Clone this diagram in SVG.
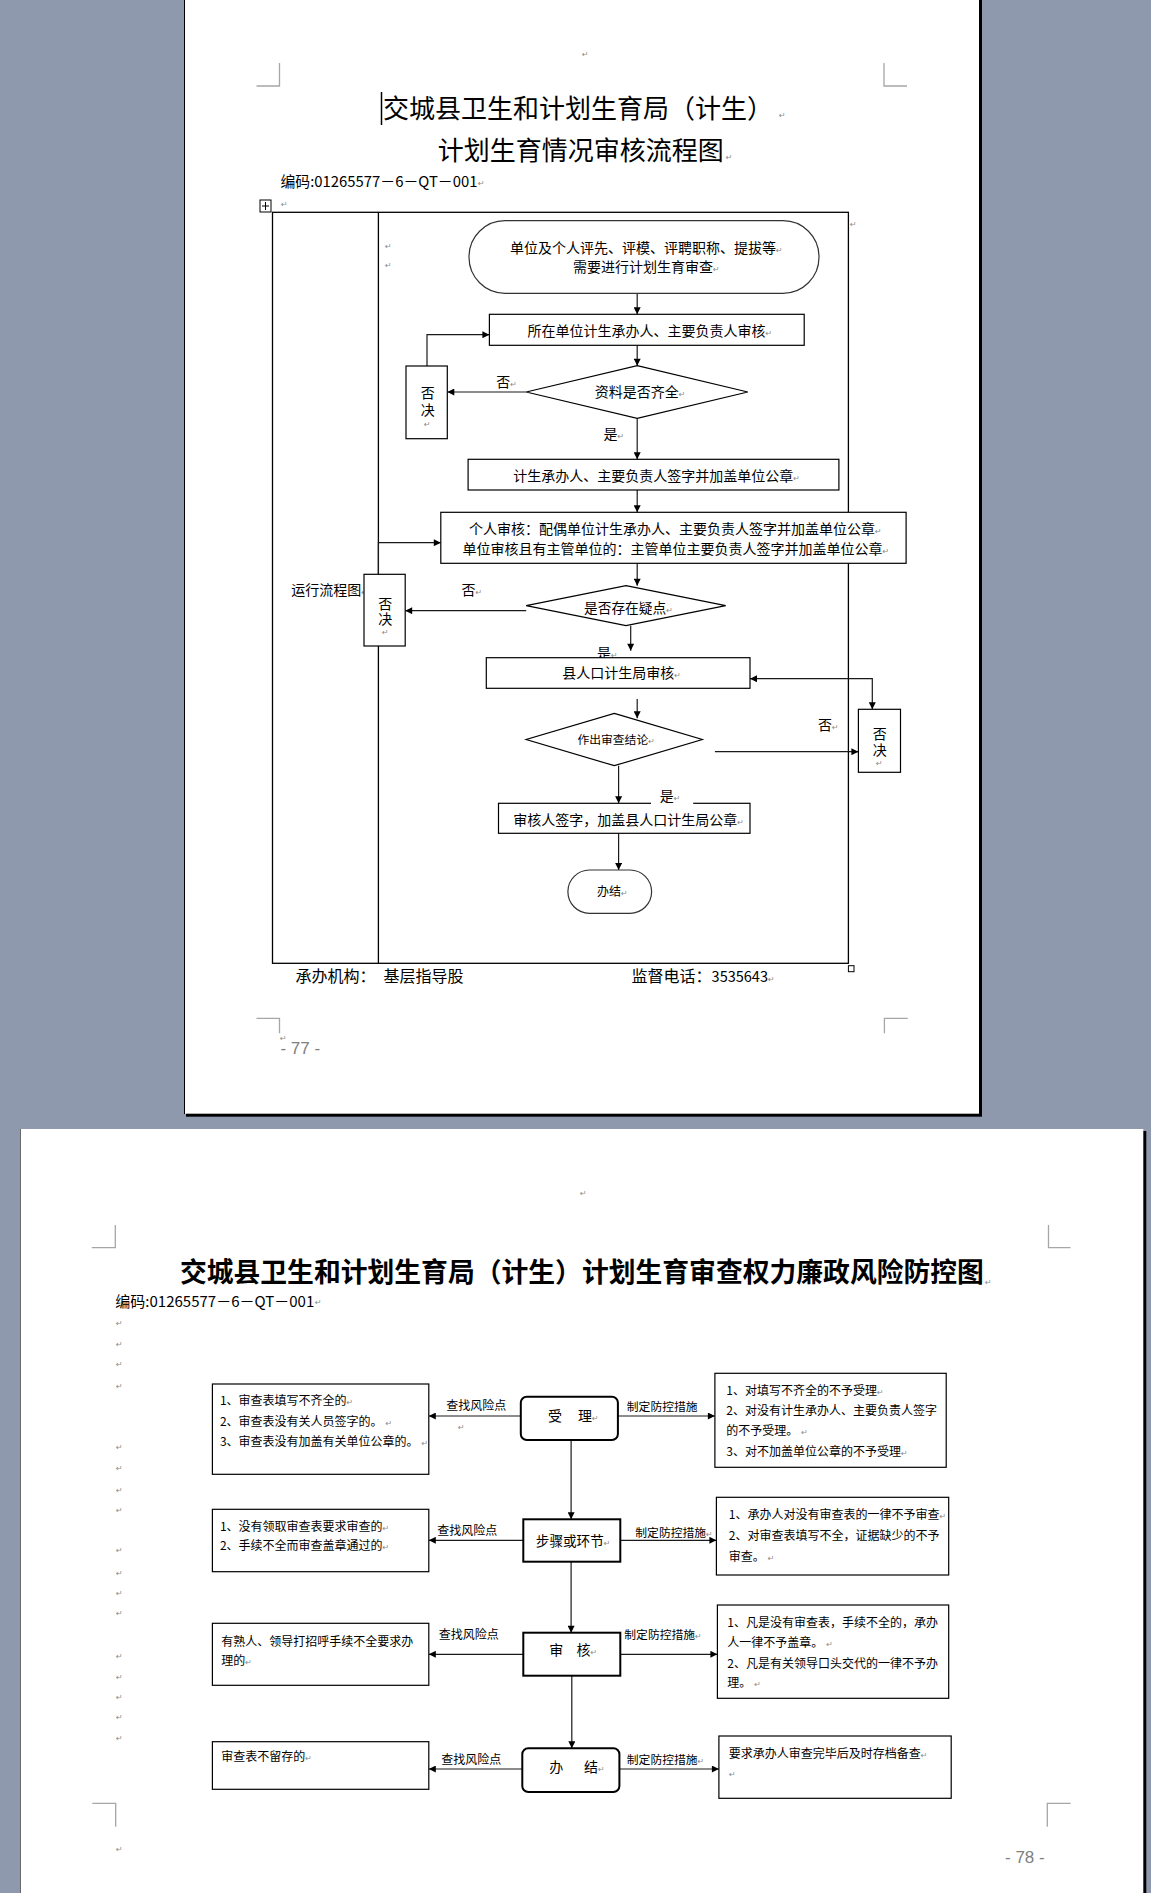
<svg xmlns="http://www.w3.org/2000/svg" width="1151" height="1893" viewBox="0 0 1151 1893">
<style>
.t{font-family:"Noto Sans CJK SC","Noto Sans",sans-serif;fill:#000}
.f12{font-size:12px}.f14{font-size:14px}.f15{font-size:15px}.f16{font-size:16px}.f26{font-size:26px}
.b{font-weight:bold}
.v{writing-mode:vertical-rl}
.rm{font-family:"DejaVu Sans",sans-serif;font-size:8px;fill:#8a8a8a;font-weight:normal}
.box{fill:#fff;stroke:#000;stroke-width:1.2}
.nb{fill:#fff;stroke:#000;stroke-width:2}
.cn{fill:none;stroke:#1a1a1a;stroke-width:1.2}
.cm{fill:none;stroke:#a6a6a6;stroke-width:1.3}
.pg{font-family:"Liberation Sans",sans-serif;font-size:17px;fill:#808080}
</style>
<defs>
<marker id="ah" viewBox="0 0 10 10" refX="10" refY="5" markerWidth="8" markerHeight="7" markerUnits="userSpaceOnUse" orient="auto-start-reverse">
<path d="M0,0 L10,5 L0,10 z" fill="#000"/>
</marker>
</defs>

<!-- background and pages -->
<rect x="0" y="0" width="1151" height="1893" fill="#8f99ae"/>
<rect x="186" y="-5" width="796" height="1121.7" fill="#000"/>
<rect x="184" y="-5" width="795" height="1118.7" fill="#fff"/>
<line x1="184.5" y1="0" x2="184.5" y2="1114" stroke="#000" stroke-width="1"/>
<rect x="22" y="1131" width="1124.3" height="770" fill="#000"/>
<rect x="20" y="1129" width="1123.3" height="770" fill="#fff"/>
<line x1="20.5" y1="1129" x2="20.5" y2="1893" stroke="#6a6a6a" stroke-width="1"/>

<!-- corner marks -->
<path class="cm" d="M256.5,86 H279.5 V63 M884,63 V86 H907 M256.5,1018.3 H279.5 V1033.3 M884.4,1033.3 V1018.3 H907.8"/>
<path class="cm" d="M91.8,1247.7 H115.3 V1225 M1048.5,1225 V1247.7 H1070.5 M92.3,1803.3 H115.7 V1826.7 M1047.3,1826.7 V1803.3 H1070.7"/>

<!-- page 1 header -->
<text class="rm" x="582" y="57">↵</text>
<line x1="381.5" y1="92" x2="381.5" y2="125" stroke="#000" stroke-width="1.5"/>
<text class="t f26" x="383" y="118.4">交城县卫生和计划生育局（计生）<tspan class="rm" dx="6">↵</tspan></text>
<text class="t f26" x="437.7" y="159.9">计划生育情况审核流程图<tspan class="rm" dx="2">↵</tspan></text>
<text class="t f15" x="280.5" y="187.4" textLength="197" lengthAdjust="spacingAndGlyphs">编码:01265577－6－QT－001</text>
<text class="rm" x="478" y="186">↵</text>

<!-- page 1 table -->
<g id="table1">
<rect x="260" y="200" width="11" height="12" fill="#fff" stroke="#000" stroke-width="1"/>
<path d="M265.5,202 V210 M262,206 H269" stroke="#000" stroke-width="1"/>
<text class="rm" x="281" y="207">↵</text>
<rect x="272.5" y="212.3" width="575.9" height="751" fill="none" stroke="#000" stroke-width="1.3"/>
<line x1="378.4" y1="212.3" x2="378.4" y2="963.3" stroke="#000" stroke-width="1.3"/>
<rect x="848.4" y="965.7" width="5.6" height="6" fill="#fff" stroke="#000" stroke-width="1"/>
<text class="rm" x="850" y="227">↵</text>
<text class="rm" x="385" y="249">↵</text>
<text class="rm" x="385" y="268">↵</text>
</g>

<!-- page 1 connectors -->
<g id="connectors1">
<path class="cn" d="M637.2,293.3 V314.3" marker-end="url(#ah)"/>
<path class="cn" d="M637.2,345.3 V365.7" marker-end="url(#ah)"/>
<path class="cn" d="M526.2,392 H447.3" marker-end="url(#ah)"/>
<path class="cn" d="M427,366 V334.7 H489.4" marker-end="url(#ah)"/>
<path class="cn" d="M637.2,418.3 V459.3" marker-end="url(#ah)"/>
<path class="cn" d="M637.2,490 V512.3" marker-end="url(#ah)"/>
<path class="cn" d="M378.4,574.3 V542.7 H440.8" marker-end="url(#ah)"/>
<path class="cn" d="M637.2,563.3 V585.7" marker-end="url(#ah)"/>
<path class="cn" d="M526.2,610.7 H405.2" marker-end="url(#ah)"/>
<path class="cn" d="M630.7,625.7 V650.7" marker-end="url(#ah)"/>
<path class="cn" d="M750,678.7 H872.3 V709.3" marker-start="url(#ah)" marker-end="url(#ah)"/>
<path class="cn" d="M637.2,699 V718.3" marker-end="url(#ah)"/>
<path class="cn" d="M714.9,751.7 H858.4" marker-end="url(#ah)"/>
<path class="cn" d="M618.6,765.7 V803.3" marker-end="url(#ah)"/>
<path class="cn" d="M618.6,833.3 V870" marker-end="url(#ah)"/>
</g>

<!-- page 1 nodes -->
<g id="start1">
<rect x="469" y="220.7" width="350" height="72.6" rx="36" ry="36" fill="#fff" stroke="#333" stroke-width="1.2"/>
<text class="t f14" x="510" y="252.6">单位及个人评先、评模、评聘职称、提拔等<tspan class="rm">↵</tspan></text>
<text class="t f14" x="573" y="272">需要进行计划生育审查<tspan class="rm">↵</tspan></text>
</g>
<g id="unitReview">
<rect class="box" x="489.4" y="314.3" width="314.8" height="31"/>
<text class="t f14" x="527.5" y="336">所在单位计生承办人、主要负责人审核<tspan class="rm">↵</tspan></text>
</g>
<g id="dataComplete">
<polygon points="637.2,365.7 747.8,392 637.2,418.3 526.2,392" fill="#fff" stroke="#000" stroke-width="1.2"/>
<text class="t f14" x="594.8" y="397.3">资料是否齐全<tspan class="rm">↵</tspan></text>
</g>
<text class="t f14" x="496.3" y="387">否<tspan class="rm">↵</tspan></text>
<g id="reject1">
<rect class="box" x="406" y="366" width="41.3" height="72.7"/>
<text class="t f14 v" x="427.8" y="385.7" style="letter-spacing:3px">否决</text>
<text class="rm" x="424" y="427">↵</text>
</g>
<text class="t f14" x="603.4" y="438.6">是<tspan class="rm">↵</tspan></text>
<g id="signSeal">
<rect class="box" x="468.1" y="459.3" width="370.8" height="30.7"/>
<text class="t f14" x="513.2" y="480.6">计生承办人、主要负责人签字并加盖单位公章<tspan class="rm">↵</tspan></text>
</g>
<g id="personalReview">
<rect class="box" x="440.8" y="512.3" width="465.3" height="51"/>
<text class="t f14" x="469" y="534.3">个人审核：配偶单位计生承办人、主要负责人签字并加盖单位公章<tspan class="rm">↵</tspan></text>
<text class="t f14" x="462.5" y="553.6">单位审核且有主管单位的：主管单位主要负责人签字并加盖单位公章<tspan class="rm">↵</tspan></text>
</g>
<text class="t f14" x="291.2" y="594.6">运行流程图<tspan class="rm">↵</tspan></text>
<text class="t f14" x="461.6" y="594.6">否<tspan class="rm">↵</tspan></text>
<g id="reject2">
<rect class="box" x="364" y="574.3" width="41.2" height="71.7"/>
<text class="t f14 v" x="385.3" y="596.3" style="letter-spacing:1px">否决</text>
<text class="rm" x="382" y="635">↵</text>
</g>
<g id="doubtCheck">
<polygon points="626,585.7 725.7,605.7 626,625.7 526.2,605.7" fill="#fff" stroke="#000" stroke-width="1.2"/>
<text class="t" style="font-size:13.7px" x="584" y="612.5">是否存在疑点<tspan class="rm">↵</tspan></text>
</g>
<text class="t f14" x="597" y="657.6">是<tspan class="rm">↵</tspan></text>
<g id="countyReview">
<rect class="box" x="486.3" y="657.7" width="263.7" height="30.6"/>
<text class="t f14" x="562.2" y="678">县人口计生局审核<tspan class="rm">↵</tspan></text>
</g>
<text class="t f14" x="818" y="730.3">否<tspan class="rm">↵</tspan></text>
<g id="reject3">
<rect class="box" x="858.4" y="709.3" width="42.1" height="63"/>
<text class="t f14 v" x="879.7" y="726.3" style="letter-spacing:2px">否决</text>
<text class="rm" x="876" y="766">↵</text>
</g>
<g id="conclusion">
<polygon points="614.3,713.3 702.3,739.5 614.3,765.7 526.2,739.5" fill="#fff" stroke="#000" stroke-width="1.2"/>
<text class="t" style="font-size:11.8px" x="577.4" y="743.8">作出审查结论<tspan class="rm">↵</tspan></text>
</g>
<g id="countySeal">
<rect class="box" x="498.5" y="803.3" width="251.5" height="30"/>
<rect x="651" y="788" width="42.2" height="16" fill="#fff"/>
<text class="t f14" x="659.8" y="801">是<tspan class="rm">↵</tspan></text>
<text class="t f14" x="513.2" y="825.3">审核人签字，加盖县人口计生局公章<tspan class="rm">↵</tspan></text>
</g>
<g id="end1">
<rect x="567.9" y="870" width="83.7" height="43.3" rx="21.6" ry="21.6" fill="#fff" stroke="#333" stroke-width="1.2"/>
<text class="t f12" x="597" y="896.3">办结<tspan class="rm">↵</tspan></text>
</g>

<!-- page 1 footer -->
<text class="t f16" x="295.5" y="982.1">承办机构：</text>
<text class="t f16" x="383.6" y="982.1">基层指导股</text>
<text class="t f16" x="631.6" y="982.1">监督电话：<tspan style="font-size:14.5px">3535643</tspan><tspan class="rm">↵</tspan></text>
<text class="rm" x="280" y="1041">↵</text>
<text class="pg" x="280.4" y="1054.4">- 77 -</text>

<!-- page 2 header -->
<text class="rm" x="580" y="1196">↵</text>
<text class="t b" style="font-size:26.8px" x="179.9" y="1281.9" textLength="804" lengthAdjust="spacingAndGlyphs">交城县卫生和计划生育局（计生）计划生育审查权力廉政风险防控图</text>
<text class="rm" x="985" y="1285">↵</text>
<text class="t f15" x="115.3" y="1306.7" textLength="199" lengthAdjust="spacingAndGlyphs">编码:01265577－6－QT－001</text>
<text class="rm" x="315" y="1305">↵</text>
<g id="marginMarks">
<text class="rm" x="116" y="1326">↵</text>
<text class="rm" x="116" y="1347">↵</text>
<text class="rm" x="116" y="1367">↵</text>
<text class="rm" x="116" y="1389">↵</text>
<text class="rm" x="116" y="1450">↵</text>
<text class="rm" x="116" y="1471">↵</text>
<text class="rm" x="116" y="1493">↵</text>
<text class="rm" x="116" y="1513">↵</text>
<text class="rm" x="116" y="1553">↵</text>
<text class="rm" x="116" y="1576">↵</text>
<text class="rm" x="116" y="1596">↵</text>
<text class="rm" x="116" y="1616">↵</text>
<text class="rm" x="116" y="1659">↵</text>
<text class="rm" x="116" y="1680">↵</text>
<text class="rm" x="116" y="1700">↵</text>
<text class="rm" x="116" y="1720">↵</text>
<text class="rm" x="116" y="1741">↵</text>
<text class="rm" x="116" y="1852">↵</text>
</g>

<!-- page 2 connectors -->
<g id="connectors2">
<path class="cn" d="M571.1,1440 V1519.3" marker-end="url(#ah)"/>
<path class="cn" d="M571.1,1561.7 V1632.7" marker-end="url(#ah)"/>
<path class="cn" d="M571.8,1675.7 V1748.3" marker-end="url(#ah)"/>
<path class="cn" d="M520.8,1416 H428.8" marker-end="url(#ah)"/>
<path class="cn" d="M617.9,1416 H714.9" marker-end="url(#ah)"/>
<path class="cn" d="M523.3,1540.3 H428.8" marker-end="url(#ah)"/>
<path class="cn" d="M620.3,1540.3 H716.4" marker-end="url(#ah)"/>
<path class="cn" d="M523.3,1654.3 H428.8" marker-end="url(#ah)"/>
<path class="cn" d="M620.3,1654.3 H717.4" marker-end="url(#ah)"/>
<path class="cn" d="M522.3,1769 H428.8" marker-end="url(#ah)"/>
<path class="cn" d="M619.4,1769 H718.9" marker-end="url(#ah)"/>
<text class="t f12" x="446.2" y="1409.6">查找风险点</text>
<text class="rm" x="458" y="1430">↵</text>
<text class="t f12" x="437.3" y="1535.3">查找风险点</text>
<text class="t f12" x="438.8" y="1638.6">查找风险点</text>
<text class="t f12" x="441.2" y="1763.9">查找风险点</text>
<text class="t" style="font-size:11.8px" x="626.8" y="1411.2">制定防控措施</text>
<text class="t" style="font-size:11.8px" x="635.3" y="1536.8">制定防控措施<tspan class="rm">↵</tspan></text>
<text class="t" style="font-size:11.8px" x="624.3" y="1638.8">制定防控措施<tspan class="rm">↵</tspan></text>
<text class="t" style="font-size:11.8px" x="626.8" y="1763.8">制定防控措施<tspan class="rm">↵</tspan></text>
</g>

<!-- page 2 nodes -->
<g id="accept">
<rect class="nb" x="520.8" y="1396.7" width="97.1" height="43.3" rx="6" ry="6"/>
<text class="t f14" x="548" y="1421.3">受</text>
<text class="t f14" x="578" y="1421.3">理<tspan class="rm">↵</tspan></text>
</g>
<g id="steps">
<rect class="nb" x="523.3" y="1519.3" width="97" height="42.4"/>
<text class="t" style="font-size:13.6px" x="535.8" y="1546.2">步骤或环节<tspan class="rm">↵</tspan></text>
</g>
<g id="audit">
<rect class="nb" x="523.3" y="1632.7" width="97" height="43"/>
<text class="t f14" x="549.2" y="1655.3">审</text>
<text class="t f14" x="576.5" y="1655.3">核<tspan class="rm">↵</tspan></text>
</g>
<g id="finish">
<rect class="nb" x="522.3" y="1748.3" width="97.1" height="43.7" rx="6" ry="6"/>
<text class="t f14" x="549.2" y="1772">办</text>
<text class="t f14" x="584" y="1772">结<tspan class="rm">↵</tspan></text>
</g>

<g id="risk1">
<rect class="box" x="212.4" y="1384" width="216.4" height="90.3"/>
<text class="t f12" x="219.9" y="1405.3">1、审查表填写不齐全的<tspan class="rm">↵</tspan></text>
<text class="t f12" x="219.9" y="1425.6">2、审查表没有关人员签字的。<tspan class="rm" dx="3">↵</tspan></text>
<text class="t f12" x="219.9" y="1446.3">3、审查表没有加盖有关单位公章的。<tspan class="rm" dx="3">↵</tspan></text>
</g>
<g id="risk2">
<rect class="box" x="212.4" y="1509.3" width="216.4" height="62.4"/>
<text class="t f12" x="219.9" y="1530.6">1、没有领取审查表要求审查的<tspan class="rm">↵</tspan></text>
<text class="t f12" x="219.9" y="1549.6">2、手续不全而审查盖章通过的<tspan class="rm">↵</tspan></text>
</g>
<g id="risk3">
<rect class="box" x="212.4" y="1623.3" width="216.4" height="62"/>
<text class="t f12" x="221.3" y="1645.6">有熟人、领导打招呼手续不全要求办</text>
<text class="t f12" x="221.3" y="1665.3">理的<tspan class="rm">↵</tspan></text>
</g>
<g id="risk4">
<rect class="box" x="212.4" y="1741.7" width="216.4" height="47.6"/>
<text class="t f12" x="221.3" y="1761.3">审查表不留存的<tspan class="rm">↵</tspan></text>
</g>

<g id="measure1">
<rect class="box" x="714.9" y="1373.3" width="231.3" height="94"/>
<text class="t f12" x="726.3" y="1395.3">1、对填写不齐全的不予受理<tspan class="rm">↵</tspan></text>
<text class="t f12" x="726.3" y="1415.3">2、对没有计生承办人、主要负责人签字</text>
<text class="t f12" x="726.3" y="1435.3">的不予受理。<tspan class="rm" dx="3">↵</tspan></text>
<text class="t f12" x="726.3" y="1456.3">3、对不加盖单位公章的不予受理<tspan class="rm">↵</tspan></text>
</g>
<g id="measure2">
<rect class="box" x="716.4" y="1497.3" width="232.3" height="77.7"/>
<text class="t f12" x="728.8" y="1518.9">1、承办人对没有审查表的一律不予审查<tspan class="rm">↵</tspan></text>
<text class="t f12" x="728.8" y="1539.6">2、对审查表填写不全，证据缺少的不予</text>
<text class="t f12" x="728.8" y="1561.3">审查。<tspan class="rm" dx="3">↵</tspan></text>
</g>
<g id="measure3">
<rect class="box" x="717.4" y="1605" width="231.3" height="93.3"/>
<text class="t f12" x="727.3" y="1627.3">1、凡是没有审查表，手续不全的，承办</text>
<text class="t f12" x="727.3" y="1647.3">人一律不予盖章。<tspan class="rm" dx="3">↵</tspan></text>
<text class="t f12" x="727.3" y="1667.9">2、凡是有关领导口头交代的一律不予办</text>
<text class="t f12" x="727.3" y="1687.3">理。<tspan class="rm" dx="3">↵</tspan></text>
</g>
<g id="measure4">
<rect class="box" x="718.9" y="1736" width="232.3" height="62.3"/>
<text class="t f12" x="728.8" y="1757.9">要求承办人审查完毕后及时存档备查<tspan class="rm">↵</tspan></text>
<text class="rm" x="729" y="1777">↵</text>
</g>

<text class="pg" x="1005" y="1863.4">- 78 -</text>
</svg>
